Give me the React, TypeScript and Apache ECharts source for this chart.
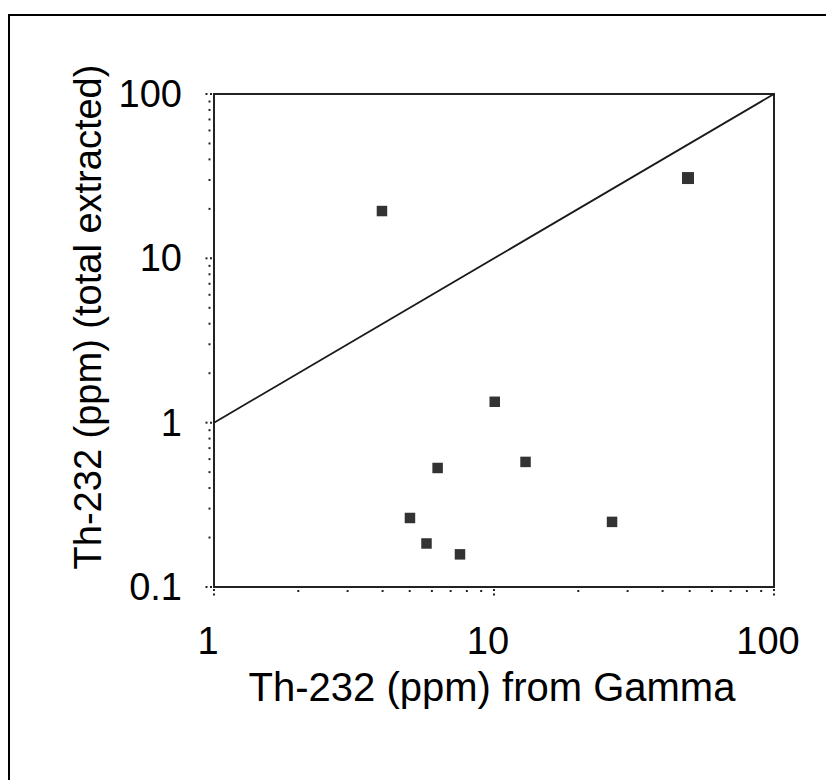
import React, { useEffect, useRef } from "react";
import * as echarts from "echarts";

// Data
const gammaTh = [3.98, 5.01, 5.74, 6.29, 7.56, 10.06, 12.96, 26.4, 49.3];
const extractedTh = [19.4, 0.263, 0.184, 0.53, 0.158, 1.34, 0.577, 0.249, 30.8];
const oneToOneLine = [
  [1, 1],
  [100, 100],
];
const xMajorTicks = [1, 10, 100];
const xMinorTicks = [2, 3, 4, 5, 6, 7, 8, 9, 20, 30, 40, 50, 60, 70, 80, 90];
const yMajorTicks = [0.1, 1, 10, 100];
const yMinorTicks = [
  0.2, 0.3, 0.4, 0.5, 0.6, 0.7, 0.8, 0.9, 2, 3, 4, 5, 6, 7, 8, 9, 20, 30, 40, 50, 60, 70, 80, 90,
];
const xTitle = "Th-232 (ppm) from Gamma";
const yTitle = "Th-232 (ppm) (total extracted)";

const X_MIN = 1;
const X_MAX = 100;
const Y_MIN = 0.1;
const Y_MAX = 100;

const FONT = "'Liberation Sans', Arial, sans-serif";
const AXIS_COLOR = "#222";
const DOT = 2;

export default function App() {
  const ref = useRef<HTMLDivElement>(null);

  useEffect(() => {
    document.body.style.margin = "0";
    const chart = echarts.init(ref.current!, null, { renderer: "svg" });

    const xTickData = [
      ...xMajorTicks.map((v) => [v, Y_MIN, 1]),
      ...xMinorTicks.map((v) => [v, Y_MIN, 0]),
    ];
    const yTickData = [
      ...yMajorTicks.map((v) => [X_MIN, v, 1]),
      ...yMinorTicks.map((v) => [X_MIN, v, 0]),
    ];

    const fmt = (v: number) => String(+Number(v).toPrecision(6));

    chart.setOption({
      animation: false,
      backgroundColor: "#fff",
      grid: {
        left: 214,
        top: 94,
        right: 52,
        bottom: 193,
        show: true,
        borderColor: AXIS_COLOR,
        borderWidth: 2,
        backgroundColor: "transparent",
      },
      xAxis: {
        type: "log",
        logBase: 10,
        min: X_MIN,
        max: X_MAX,
        splitNumber: 2,
        axisLine: { show: true, lineStyle: { color: AXIS_COLOR, width: 2 } },
        axisTick: { show: false },
        minorTick: { show: false },
        splitLine: { show: false },
        axisLabel: {
          fontSize: 38,
          fontFamily: FONT,
          color: "#000",
          margin: 35,
          padding: [0, 12, 0, 0],
          formatter: fmt,
        },
      },
      yAxis: {
        type: "log",
        logBase: 10,
        min: Y_MIN,
        max: Y_MAX,
        splitNumber: 3,
        axisLine: { show: true, lineStyle: { color: AXIS_COLOR, width: 2 } },
        axisTick: { show: false },
        minorTick: { show: false },
        splitLine: { show: false },
        axisLabel: {
          fontSize: 38,
          fontFamily: FONT,
          color: "#000",
          margin: 32,
          formatter: fmt,
        },
      },
      graphic: [
        {
          type: "line",
          shape: { x1: 8, y1: 15, x2: 826, y2: 15 },
          style: { stroke: "#000", lineWidth: 2 },
        },
        {
          type: "line",
          shape: { x1: 9, y1: 14, x2: 9, y2: 780 },
          style: { stroke: "#000", lineWidth: 2 },
        },
        {
          type: "text",
          x: 492,
          y: 687,
          style: {
            text: xTitle,
            fontSize: 40,
            fontFamily: FONT,
            fill: "#000",
            textAlign: "center",
            textVerticalAlign: "middle",
          },
        },
        {
          type: "text",
          x: 88,
          y: 317,
          rotation: Math.PI / 2,
          style: {
            text: yTitle,
            fontSize: 38,
            fontFamily: FONT,
            fill: "#000",
            textAlign: "center",
            textVerticalAlign: "middle",
          },
        },
      ],
      series: [
        {
          type: "line",
          data: oneToOneLine,
          symbol: "none",
          lineStyle: { color: "#1a1a1a", width: 1.8 },
          silent: true,
          z: 3,
        },
        {
          type: "scatter",
          data: gammaTh.map((x, i) => [x, extractedTh[i]]),
          symbol: "rect",
          symbolSize: (val: number[]) => (val[0] > 40 ? 12 : 10.5),
          itemStyle: { color: "#000" },
          z: 4,
        },
        {
          type: "custom",
          silent: true,
          clip: false,
          data: xTickData,
          encode: { x: 0, y: 1 },
          renderItem: (params: any, api: any) => {
            const p = api.coord([api.value(0), api.value(1)]);
            const major = api.value(2) === 1;
            const children: any[] = [];
            if (major) {
              children.push({
                type: "rect",
                shape: { x: p[0] - DOT / 2, y: p[1] + 2, width: DOT, height: DOT },
                style: { fill: AXIS_COLOR },
              });
              children.push({
                type: "rect",
                shape: { x: p[0] - DOT / 2, y: p[1] + 6.5, width: DOT, height: DOT },
                style: { fill: AXIS_COLOR },
              });
            } else {
              children.push({
                type: "rect",
                shape: { x: p[0] - DOT / 2, y: p[1] + 3, width: DOT, height: DOT },
                style: { fill: AXIS_COLOR },
              });
            }
            return { type: "group", children };
          },
        },
        {
          type: "custom",
          silent: true,
          clip: false,
          data: yTickData,
          encode: { x: 0, y: 1 },
          renderItem: (params: any, api: any) => {
            const p = api.coord([api.value(0), api.value(1)]);
            const major = api.value(2) === 1;
            const children: any[] = [];
            if (major) {
              children.push({
                type: "rect",
                shape: { x: p[0] - 2 - DOT, y: p[1] - DOT / 2, width: DOT, height: DOT },
                style: { fill: AXIS_COLOR },
              });
              children.push({
                type: "rect",
                shape: { x: p[0] - 6.5 - DOT, y: p[1] - DOT / 2, width: DOT, height: DOT },
                style: { fill: AXIS_COLOR },
              });
            } else {
              children.push({
                type: "rect",
                shape: { x: p[0] - 3.5 - DOT, y: p[1] - DOT / 2, width: DOT, height: DOT },
                style: { fill: AXIS_COLOR },
              });
            }
            return { type: "group", children };
          },
        },
      ],
    });

    return () => {
      chart.dispose();
    };
  }, []);

  return <div ref={ref} style={{ width: 826, height: 780 }} />;
}
